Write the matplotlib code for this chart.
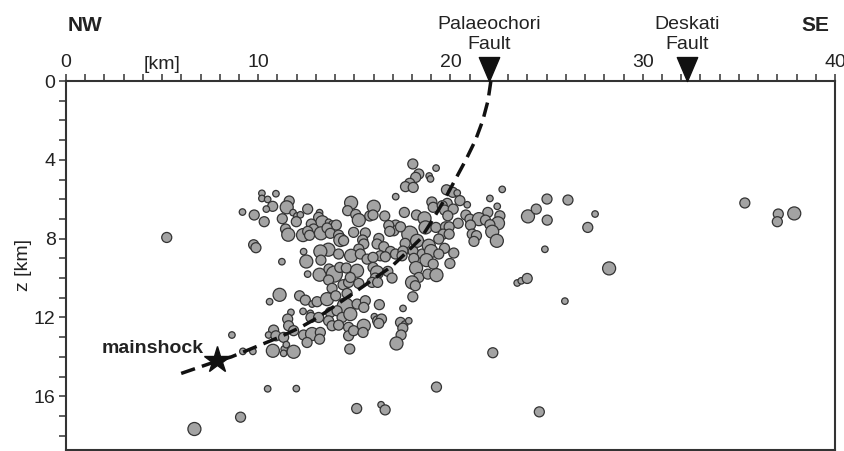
import numpy as np
import matplotlib
matplotlib.use("Agg")
import matplotlib.pyplot as plt
from matplotlib.path import Path

plt.rcParams['font.family'] = ['Liberation Sans', 'DejaVu Sans']

# hypocentres: distance along profile [km], depth [km], size class (1 small .. 4 big)
dist_km = [
    10.19, 10.19, 10.49, 10.92, 11.61, 11.48, 10.75, 10.42, 9.18, 9.79, 10.31, 11.25, 11.81, 12.01, 12.19,
    12.57, 11.98, 13.19, 13.14, 13.33, 13.66, 13.84, 14.06, 12.76, 12.88, 11.42, 11.56, 12.33, 12.57, 12.67,
    13.26, 13.58, 13.75, 14.18, 14.27, 14.44, 13.65, 13.23, 12.36, 9.76, 9.88, 14.83, 14.65, 15.07, 15.23,
    14.96, 15.57, 15.80, 15.43, 15.49, 15.23, 14.83, 14.18, 15.31,
    18.04, 19.25, 18.35, 18.19, 18.89, 18.96, 17.88, 17.66, 18.06, 17.15, 19.79, 20.12, 20.35, 22.69, 19.03,
    19.10, 19.83, 19.57, 19.69, 20.14, 19.86, 20.49, 20.87, 22.05, 22.43, 22.57, 21.94, 20.80, 21.01, 21.48,
    21.82, 21.04, 20.40, 22.47, 22.05, 22.17, 22.41, 21.13, 21.35, 21.22, 16.01, 15.97, 17.60, 18.23, 18.65,
    18.70, 19.24, 19.74, 19.93, 19.62, 19.93, 19.39, 17.88, 18.26, 17.64, 17.15, 17.05, 17.40, 16.58, 16.79,
    16.84, 16.27, 16.18, 16.53, 16.88, 17.14, 17.53, 18.06, 18.53, 18.87, 18.99, 19.69, 20.17, 19.39, 16.35,
    11.23, 12.50, 13.26, 15.66, 12.57, 13.19, 13.68, 13.96, 14.24, 14.58, 15.14, 13.66, 14.41, 14.70, 15.23,
    14.79, 13.84, 11.11, 10.59, 12.15, 12.45, 12.80, 13.06, 13.58, 14.03, 14.62, 14.53, 15.14, 15.57, 11.70,
    11.53, 12.33, 12.71, 12.74, 13.14, 13.75, 14.10, 14.36, 14.79, 15.49, 13.66, 13.84, 14.18, 14.70, 15.49,
    10.80, 10.54, 10.92, 11.32, 11.58, 11.84, 12.36, 12.80, 13.23, 12.54, 13.19, 14.70, 14.96, 15.45, 14.76,
    8.63, 9.20, 9.72, 10.76, 11.35, 11.32, 11.46, 11.84,
    15.97, 16.61, 17.48, 18.09, 15.97, 16.18, 16.09, 15.92, 16.21, 16.74, 16.96, 18.75, 19.10, 19.97, 18.21,
    18.35, 18.00, 18.17, 18.82, 19.27, 18.04, 16.30, 17.53, 16.04, 16.21, 16.41, 16.27, 17.40, 17.62, 17.83,
    17.52, 17.43, 17.19, 22.20,
    24.03, 24.46, 25.02, 25.03, 26.11, 27.52, 27.14, 24.91, 28.25, 23.47, 23.68, 23.99, 25.95, 24.62, 35.31,
    37.05, 37.00, 37.88,
    10.49, 11.98, 19.27, 9.08, 6.68, 15.12, 16.39, 16.60, 5.24,
]
depth_km = [
    5.70, 5.96, 6.01, 5.72, 6.09, 6.41, 6.36, 6.50, 6.65, 6.80, 7.14, 6.99, 6.68, 6.85, 6.79,
    6.50, 7.14, 6.68, 6.92, 7.17, 7.17, 7.26, 7.31, 7.26, 7.51, 7.51, 7.80, 7.82, 7.63, 7.83,
    7.73, 7.46, 7.73, 7.82, 8.07, 8.10, 8.56, 8.65, 8.66, 8.31, 8.46, 6.18, 6.58, 6.77, 7.06,
    7.68, 7.71, 6.85, 8.07, 8.27, 8.53, 8.87, 8.78, 8.78,
    4.21, 4.42, 4.72, 4.89, 4.82, 4.97, 5.19, 5.36, 5.40, 5.87, 5.52, 5.65, 5.68, 5.50, 6.14,
    6.41, 6.21, 6.33, 6.55, 6.50, 6.84, 6.07, 6.28, 5.96, 6.36, 6.84, 6.67, 6.80, 7.01, 7.01,
    7.06, 7.31, 7.22, 7.22, 7.29, 7.65, 8.11, 7.77, 7.85, 8.14, 6.38, 6.80, 6.67, 6.80, 6.97,
    7.43, 7.43, 7.40, 7.40, 7.77, 7.77, 8.02, 7.77, 8.11, 8.24, 7.31, 7.60, 7.40, 6.85, 7.33,
    7.63, 7.99, 8.27, 8.41, 8.65, 8.78, 8.63, 8.65, 8.78, 8.36, 8.63, 8.49, 8.73, 8.78, 8.87,
    9.17, 9.16, 9.09, 9.04, 9.80, 9.83, 9.54, 9.80, 9.46, 9.49, 9.63, 10.10, 10.34, 10.22, 10.27,
    9.97, 10.52, 10.85, 11.20, 10.90, 11.12, 11.32, 11.20, 11.07, 10.90, 10.78, 11.41, 11.32, 11.15, 11.74,
    12.08, 11.69, 11.79, 12.00, 12.00, 11.74, 11.66, 12.00, 11.83, 11.49, 12.17, 12.42, 12.39, 12.50, 12.42,
    12.64, 12.89, 12.93, 13.01, 12.42, 12.67, 12.89, 12.84, 12.76, 13.27, 13.10, 12.93, 12.67, 12.76, 13.60,
    12.89, 13.72, 13.72, 13.69, 13.60, 13.82, 13.38, 13.74,
    8.95, 8.92, 8.87, 9.00, 9.46, 9.71, 10.00, 10.22, 10.22, 9.66, 10.00, 9.09, 9.29, 9.26, 9.49,
    9.97, 10.22, 10.39, 9.80, 9.85, 10.95, 11.35, 11.54, 11.96, 12.17, 12.08, 12.30, 12.25, 12.34, 12.17,
    12.54, 12.89, 13.32, 13.79,
    6.87, 6.50, 5.99, 7.06, 6.04, 6.75, 7.43, 8.54, 9.51, 10.25, 10.14, 10.02, 11.17, 16.79, 6.19,
    6.75, 7.14, 6.72,
    15.62, 15.61, 15.53, 17.06, 17.66, 16.62, 16.43, 16.69, 7.94,
]
size_class = [
    1, 1, 1, 1, 2, 3, 2, 1, 1, 2, 2, 2, 1, 1, 1,
    2, 2, 1, 2, 3, 1, 1, 2, 2, 2, 2, 3, 3, 2, 2,
    3, 2, 2, 2, 3, 2, 3, 3, 1, 2, 2, 3, 2, 2, 3,
    2, 2, 2, 2, 2, 2, 3, 2, 2,
    2, 1, 2, 2, 1, 1, 2, 2, 2, 1, 2, 2, 1, 1, 2,
    2, 2, 2, 2, 2, 2, 2, 1, 1, 1, 2, 2, 2, 2, 3,
    2, 2, 2, 3, 2, 3, 3, 2, 2, 2, 3, 2, 2, 2, 3,
    3, 2, 2, 2, 2, 2, 2, 4, 3, 2, 2, 2, 2, 2, 2,
    2, 2, 2, 2, 2, 2, 2, 2, 2, 3, 3, 2, 2, 2, 2,
    1, 3, 2, 2, 1, 3, 2, 4, 2, 2, 3, 2, 2, 2, 2,
    2, 2, 3, 1, 2, 2, 1, 2, 3, 2, 2, 4, 2, 2, 1,
    2, 1, 1, 2, 2, 2, 2, 2, 3, 2, 2, 2, 2, 2, 3,
    2, 1, 2, 2, 2, 2, 2, 3, 2, 2, 2, 2, 2, 2, 2,
    1, 1, 1, 3, 1, 1, 1, 3,
    2, 2, 2, 2, 2, 3, 2, 2, 2, 2, 2, 3, 2, 2, 3,
    2, 3, 2, 2, 3, 2, 2, 1, 1, 2, 2, 2, 2, 1, 1,
    2, 2, 3, 2,
    3, 2, 2, 2, 2, 1, 2, 1, 3, 1, 1, 2, 1, 2, 2,
    2, 2, 3,
    1, 1, 2, 2, 3, 2, 1, 2, 2,
]

mainshock_x, mainshock_z = 7.88, 14.15

# fault trace read from the section
fault_x = [22.1, 21.95, 21.68, 21.3, 20.8, 20.25, 19.7, 19.1, 18.45, 17.55, 16.95, 16.0, 15.49,
           14.6, 13.85, 13.1, 12.2, 11.1, 9.85, 8.6, 7.6, 5.9]
fault_z = [0.0, 1.0, 2.0, 3.0, 4.0, 5.0, 6.0, 7.0, 8.0, 8.85, 9.4, 10.05, 10.4,
           11.0, 11.5, 12.0, 12.5, 13.0, 13.5, 14.0, 14.3, 14.87]

faults = ['Palaeochori\nFault', 'Deskati\nFault']
fault_top_x = [22.0, 32.3]

x_ticks = [0, 10, 20, 30, 40]
z_ticks = [0, 4, 8, 12, 16]

area = {1: 22, 2: 52, 3: 88, 4: 132}

fig = plt.figure(figsize=(8.45, 4.51), dpi=100)
ax = fig.add_axes([66 / 845, 1 - 449.5 / 451, 769 / 845, 368.5 / 451])

ax.set_xlim(0, 40)
ax.set_ylim(18.7, 0)

ax.scatter(dist_km, depth_km, s=[area[c] for c in size_class], c='#a3a3a3',
           edgecolors='#333333', linewidths=0.9, zorder=3)

ax.plot(fault_x, fault_z, color='#111111', lw=2.5, dashes=(4.2, 2.1), zorder=4, clip_on=False)
ax.plot(mainshock_x, mainshock_z, marker='*', ms=20, color='#111111', zorder=5)
ax.text(mainshock_x - 0.7, mainshock_z - 0.35, 'mainshock', fontsize=14, fontweight='bold',
        ha='right', va='baseline', color='#222222')

# fault markers on top of section
tri = Path([(0, 0), (-0.85, 2), (0.85, 2), (0, 0)], closed=True)
for fx, name in zip(fault_top_x, faults):
    ax.plot(fx, 0, marker=tri, ms=34.5, color='#111111', clip_on=False, zorder=6)
    ax.text(fx, -1.62, name, fontsize=14, ha='center', va='baseline', linespacing=1.2,
            color='#222222')

ax.text(1.0, -2.55, 'NW', fontsize=15, fontweight='bold', ha='center', va='baseline', color='#222222')
ax.text(39.0, -2.55, 'SE', fontsize=15, fontweight='bold', ha='center', va='baseline', color='#222222')
ax.text(5.0, -0.62, '[km]', fontsize=14, ha='center', va='baseline', color='#222222')

ax.xaxis.tick_top()
ax.set_xticks(x_ticks)
ax.set_xticks(np.arange(0, 41, 1), minor=True)
ax.set_yticks(z_ticks)
ax.set_yticks(np.arange(0, 19, 1), minor=True)
ax.tick_params(axis='both', which='both', direction='out', length=5, width=1.1,
               color='#333333', labelsize=14, labelcolor='#222222', pad=2.5)
ax.tick_params(axis='x', which='both', top=True, bottom=False)
ax.set_ylabel('z [km]', fontsize=14, color='#222222')
ax.yaxis.set_label_coords(-0.044, 0.5)

for sp in ax.spines.values():
    sp.set_color('#333333')
    sp.set_linewidth(1.5)

fig.savefig('out.png', dpi=100)
